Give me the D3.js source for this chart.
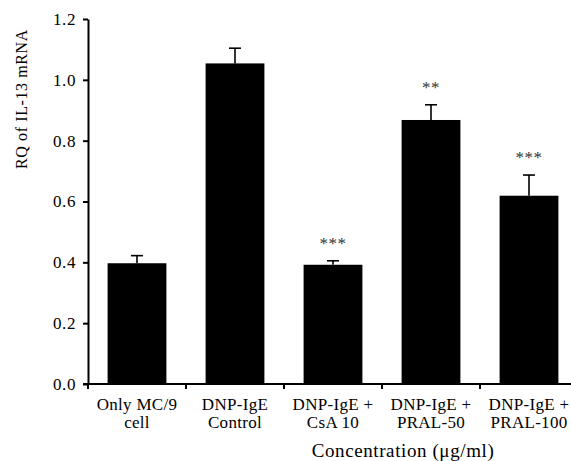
<!DOCTYPE html>
<html>
<head>
<meta charset="utf-8">
<script src="https://cdn.jsdelivr.net/npm/d3@7"></script>
<style>
  body { margin: 0; background: #fff; }
  svg text { font-family: "Liberation Serif", serif; fill: #000; }
</style>
</head>
<body>
<div id="myViz"></div>
<script>
// data
var groups = ["g1", "g2", "g3", "g4", "g5"];
var labelLine1 = ["Only MC/9", "DNP-IgE", "DNP-IgE +", "DNP-IgE +", "DNP-IgE +"];
var labelLine2 = ["cell", "Control", "CsA  10", "PRAL-50", "PRAL-100"];
var means = [0.397, 1.054, 0.392, 0.868, 0.619];
var errors = [0.025, 0.05, 0.013, 0.05, 0.068];
var stars = ["", "", "***", "**", "***"];
var yTicks = [0, 0.2, 0.4, 0.6, 0.8, 1.0, 1.2];

var width = 571, height = 461;
var margin = {top: 19, left: 88, bottom: 77};

var svg = d3.select("#myViz")
  .append("svg")
  .attr("width", width)
  .attr("height", height);

var x = d3.scaleBand()
  .domain(groups)
  .range([margin.left, 578])
  .paddingInner(0.4)
  .paddingOuter(0.2);

var y = d3.scaleLinear()
  .domain([0, 1.2])
  .range([height - margin.bottom, margin.top]);

// bars
svg.append("g")
  .selectAll("rect")
  .data(groups)
  .enter()
  .append("rect")
    .attr("x", d => x(d))
    .attr("width", x.bandwidth())
    .attr("y", (d, i) => y(means[i]))
    .attr("height", (d, i) => y(0) - y(means[i]))
    .attr("fill", "#000");

// error bars (upper only)
var eb = svg.append("g").attr("stroke", "#000").attr("stroke-width", 1.6);
groups.forEach(function(d, i) {
  var cx = x(d) + x.bandwidth() / 2;
  eb.append("line")
    .attr("x1", cx).attr("x2", cx)
    .attr("y1", y(means[i])).attr("y2", y(means[i] + errors[i]));
  eb.append("line")
    .attr("x1", cx - 6).attr("x2", cx + 6)
    .attr("y1", y(means[i] + errors[i])).attr("y2", y(means[i] + errors[i]));
});

// significance stars
svg.append("g")
  .selectAll("text")
  .data(groups)
  .enter()
  .append("text")
    .attr("x", d => x(d) + x.bandwidth() / 2)
    .attr("y", (d, i) => y(means[i] + errors[i]) - 12)
    .attr("text-anchor", "middle")
    .style("font-size", "17px")
    .style("letter-spacing", "0.5px")
    .style("fill", "#333")
    .text((d, i) => stars[i]);

// y axis
var yAxis = svg.append("g")
  .attr("transform", `translate(${margin.left},0)`)
  .call(d3.axisLeft(y).tickValues(yTicks).tickFormat(d3.format(".1f")).tickSize(5).tickSizeOuter(0));
yAxis.select(".domain").attr("stroke-width", 2);
yAxis.selectAll(".tick line").attr("stroke-width", 2);
yAxis.selectAll(".tick text")
  .attr("x", -12)
  .style("font-size", "17px")
  .style("letter-spacing", "0.6px");

// x axis
var xAxis = svg.append("g")
  .attr("transform", `translate(0,${y(0)})`)
  .call(d3.axisBottom(x).tickSize(0).tickFormat(""));
xAxis.select(".domain").attr("d", `M${margin.left - 5},0H578`).attr("stroke-width", 2);
// ticks between categories
svg.append("g")
  .selectAll("line")
  .data(d3.range(groups.length + 1))
  .enter()
  .append("line")
    .attr("x1", i => margin.left + i * x.step())
    .attr("x2", i => margin.left + i * x.step())
    .attr("y1", y(0))
    .attr("y2", y(0) + 5)
    .attr("stroke", "#000")
    .attr("stroke-width", 2);

// category labels
var cl = svg.append("g").style("font-size", "17px").style("letter-spacing", "0.3px");
groups.forEach(function(d, i) {
  var cx = x(d) + x.bandwidth() / 2;
  cl.append("text").attr("x", cx).attr("y", 410)
    .attr("text-anchor", "middle").text(labelLine1[i]);
  cl.append("text").attr("x", cx).attr("y", 428)
    .attr("text-anchor", "middle").text(labelLine2[i]);
});

// axis titles
svg.append("text")
  .attr("x", 403)
  .attr("y", 457)
  .attr("text-anchor", "middle")
  .style("font-size", "19px")
  .style("letter-spacing", "0.6px")
  .text("Concentration (\u03bcg/ml)");

svg.append("text")
  .attr("transform", "translate(27,99) rotate(-90)")
  .attr("text-anchor", "middle")
  .style("font-size", "16px")
  .style("letter-spacing", "0.6px")
  .text("RQ of IL-13 mRNA");
</script>
</body>
</html>
